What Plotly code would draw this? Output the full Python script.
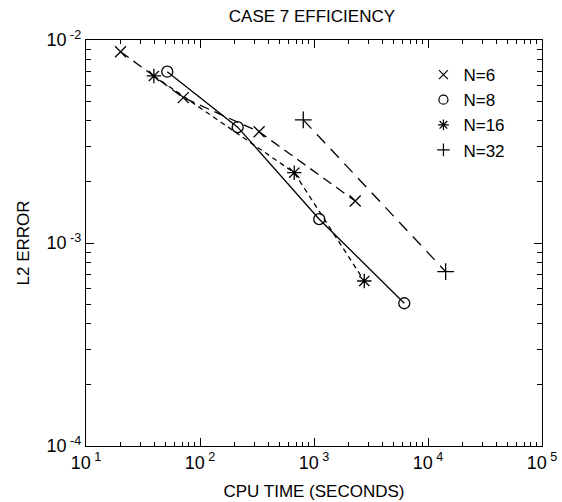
import plotly.graph_objects as go

# CPU time (s) and L2 error for each resolution
n6_time = [20.1, 71.3, 330, 2300]
n6_err = [8.76e-3, 5.2e-3, 3.53e-3, 1.61e-3]

n8_time = [51.6, 214, 1112, 6194]
n8_err = [6.98e-3, 3.72e-3, 1.31e-3, 5.05e-4]

n16_time = [39.4, 671, 2761]
n16_err = [6.65e-3, 2.22e-3, 6.5e-4]

n32_time = [805, 14290]
n32_err = [4.04e-3, 7.23e-4]

series_names = ["N=6", "N=8", "N=16", "N=32"]

x_ticks = [10, 100, 1000, 10000, 100000]
x_ticktext = ["10<sup> 1</sup>", "10<sup> 2</sup>", "10<sup> 3</sup>", "10<sup> 4</sup>", "10<sup> 5</sup>"]
y_ticks = [1e-4, 1e-3, 1e-2]
y_ticktext = ["10<sup> -4</sup>", "10<sup> -3</sup>", "10<sup> -2</sup>"]

FONT = "Liberation Sans"
INK = "black"

series = [
    (n6_time, n6_err, "x-thin-open", "10px,6px", 11),
    (n8_time, n8_err, "circle-open", "solid", 11),
    (n16_time, n16_err, "asterisk-open", "5px,4px", 12),
    (n32_time, n32_err, "cross-thin-open", "12px,8px", 12),
]

fig = go.Figure()
for name, (xs, ys, sym, dash, size) in zip(series_names, series):
    fig.add_trace(go.Scatter(
        x=xs, y=ys, mode="lines+markers", showlegend=False,
        line=dict(color=INK, width=1.3, dash=dash),
        marker=dict(symbol=sym, size=size, color=INK, line=dict(color=INK, width=1.3)),
    ))
# marker-only legend entries
for name, (xs, ys, sym, dash, size) in zip(series_names, series):
    fig.add_trace(go.Scatter(
        x=[None], y=[None], mode="markers", name=name,
        marker=dict(symbol=sym, size=9, color=INK, line=dict(color=INK, width=1.2)),
    ))

minor_x = [m * 10 ** e for e in range(1, 5) for m in range(2, 10)]
minor_y = [m * 10 ** e for e in (-4, -3) for m in range(2, 10)]

axis_common = dict(
    type="log", showgrid=False, zeroline=False, automargin=False,
    showline=True, linecolor=INK, linewidth=1.3, mirror="ticks",
    ticks="inside", ticklen=8, tickwidth=1.3, tickcolor=INK,
    tickfont=dict(family=FONT, size=18, color=INK),
)

fig.update_xaxes(
    **axis_common, range=[1, 5], tickvals=x_ticks, ticktext=x_ticktext,
    minor=dict(tickvals=minor_x, ticks="inside", ticklen=4, tickwidth=1.3, tickcolor=INK, showgrid=False),
    title=dict(text="CPU TIME (SECONDS)", font=dict(family=FONT, size=17, color=INK), standoff=13),
)
fig.update_yaxes(
    **axis_common, range=[-4, -2], tickvals=y_ticks, ticktext=y_ticktext,
    minor=dict(tickvals=minor_y, ticks="inside", ticklen=5, tickwidth=1.3, tickcolor=INK, showgrid=False),
    title=dict(text="L2 ERROR", font=dict(family=FONT, size=17, color=INK), standoff=12),
)

fig.update_layout(
    width=562, height=502,
    margin=dict(l=86, r=20, t=40, b=56),
    paper_bgcolor="white", plot_bgcolor="white",
    title=dict(text="CASE 7 EFFICIENCY", x=0.555, xanchor="center", y=0.968, yanchor="middle",
               font=dict(family=FONT, size=17, color=INK)),
    legend=dict(x=0.74, y=0.958, xanchor="left", yanchor="top", bgcolor="rgba(0,0,0,0)",
                font=dict(family=FONT, size=17, color=INK), itemwidth=30, tracegroupgap=0),
)

fig.write_html("out.html")
